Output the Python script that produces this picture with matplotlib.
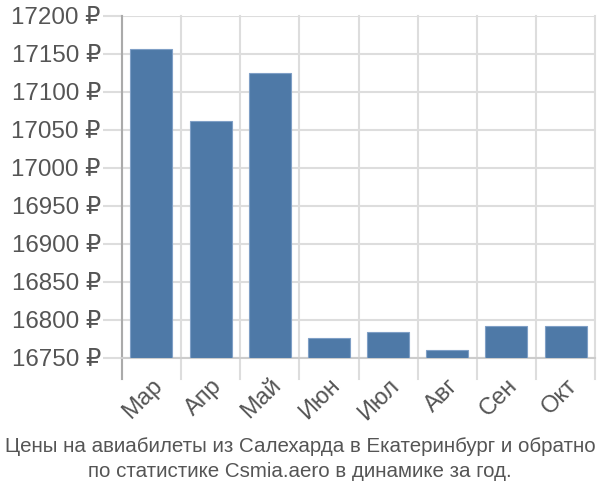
import matplotlib
matplotlib.use("Agg")
import matplotlib.pyplot as plt

# Data
months = ["Мар", "Апр", "Май", "Июн", "Июл", "Авг", "Сен", "Окт"]
prices = [17157, 17062, 17125, 16776, 16784, 16761, 16792, 16792]
y_ticks = list(range(16750, 17201, 50))
title = "Цены на авиабилеты из Салехарда в Екатеринбург и обратно\nпо статистике Csmia.aero в динамике за год."

plt.rcParams['font.family'] = ['Liberation Sans', 'DejaVu Sans']

fig = plt.figure(figsize=(6, 5), dpi=100)
ax = fig.add_axes([0.203, 0.284, 0.789, 0.684])

x = range(len(months))
ax.bar(x, [p - 16750 for p in prices], bottom=16750, width=0.71,
       color="#4e79a7", edgecolor="#7f9fc6", linewidth=0.8, zorder=3)

ax.set_xlim(-0.5, len(months) - 0.5)
ax.set_ylim(16750, 17200)
ax.set_yticks(y_ticks)
ax.set_yticklabels([f"{v} ₽" for v in y_ticks], fontsize=17.4, color="#555555")
ax.set_xticks(x)
ax.set_xticklabels(months, rotation=45, ha="right", rotation_mode="anchor",
                   fontsize=17, color="#555555")
ax.tick_params(axis="x", length=0, pad=12)
ax.tick_params(axis="y", length=14, color="#dddddd", width=1.5, pad=1)

# vertical grid at category boundaries, extending below the axis
for b in [i - 0.5 for i in range(len(months) + 1)]:
    ax.axvline(b, ymin=-0.06, ymax=1, color="#dddddd", linewidth=1.5,
               clip_on=False, zorder=1)
ax.grid(axis="y", color="#dddddd", linewidth=1.5, zorder=1)

for s in ["top", "right"]:
    ax.spines[s].set_visible(False)
ax.spines["bottom"].set_color("#cccccc")
ax.spines["bottom"].set_linewidth(1.5)
ax.spines["left"].set_visible(False)
ax.axvline(-0.5, ymin=-0.06, ymax=1, color="#aaaaaa", linewidth=1.5,
           clip_on=False, zorder=2)

fig.text(0.5, 0.082, title, ha="center", va="center", fontsize=14.8,
         color="#555555", linespacing=1.45)

fig.savefig("out.png", dpi=100)
